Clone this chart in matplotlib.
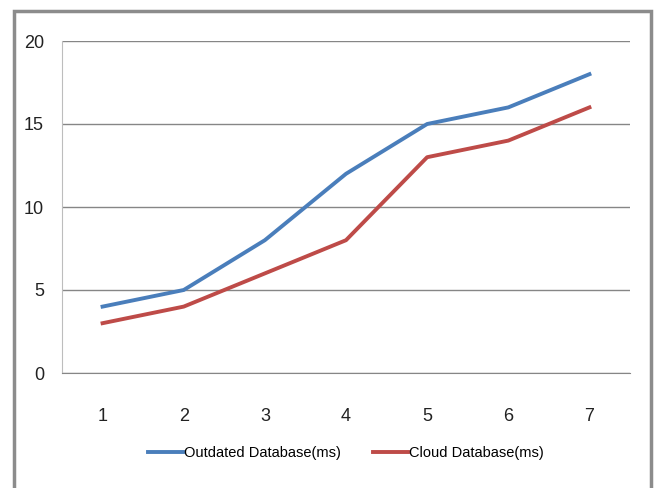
import numpy as np
import matplotlib.pyplot as plt
from matplotlib.patches import Rectangle

# data
x = [1, 2, 3, 4, 5, 6, 7]
outdated = [4, 5, 8, 12, 15, 16, 18]
cloud = [3, 4, 6, 8, 13, 14, 16]
yticks = [0, 5, 10, 15, 20]

plt.rcParams['font.family'] = ['Liberation Sans', 'DejaVu Sans']

W, H = 656, 488
fig = plt.figure(figsize=(W / 100, H / 100), dpi=100)

# outer chart border
fig.patches.append(Rectangle((14 / W, -0.01), (651 - 14) / W, 1.01 - 11 / H,
                             transform=fig.transFigure, fill=False,
                             edgecolor='#8c8c8c', linewidth=2.5))

ax = fig.add_axes([62 / W, 1 - 373 / H, (630 - 62) / W, (373 - 41) / H])
ax.plot(x, outdated, color='#4a7ebb', linewidth=2.8, label='Outdated Database(ms)')
ax.plot(x, cloud, color='#be4b48', linewidth=2.8, label='Cloud Database(ms)')

ax.set_xlim(0.5, 7.5)
ax.set_ylim(0, 20)
ax.set_yticks(yticks)
ax.set_xticks(x)
ax.grid(axis='y', color='#868686', linewidth=1)
ax.set_axisbelow(True)
for s in ['top', 'right']:
    ax.spines[s].set_visible(False)
ax.spines['left'].set_color('#bdbdbd')
ax.spines['bottom'].set_color('#868686')
ax.tick_params(length=0, labelsize=13, colors='#222222', pad=13)
ax.tick_params(axis='x', pad=25)

ax.legend(loc='center', bbox_to_anchor=(0.5, -0.24), ncol=2, frameon=False,
          fontsize=10.5, handlelength=2.4, handletextpad=0.05, columnspacing=2.2)

fig.savefig('out.png', dpi=100)
